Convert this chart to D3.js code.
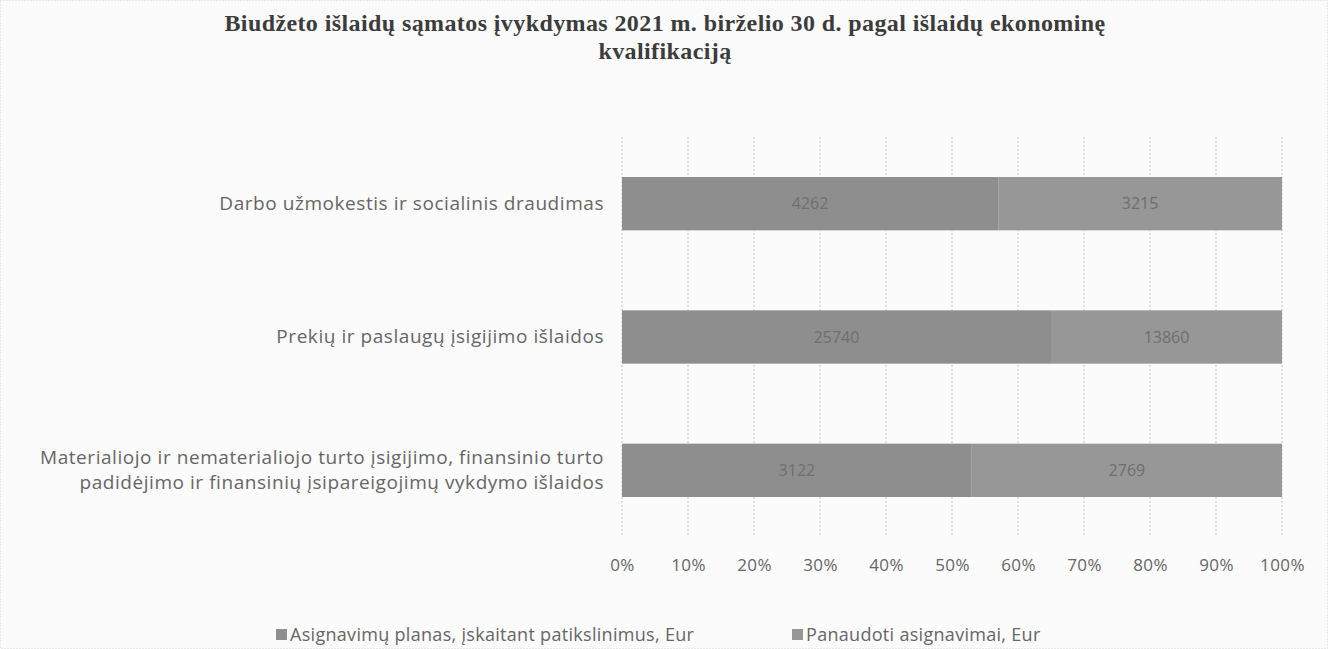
<!DOCTYPE html>
<html>
<head>
<meta charset="utf-8">
<script src="https://cdn.jsdelivr.net/npm/d3@7"></script>
<style>
    body { margin: 0; background: #ffffff; }
    #chart { width: 1328px; height: 649px; }
    .axis path, .axis line { display: none; }
    .axis text { fill: #666666; font-family: "Open Sans", sans-serif; }
</style>
</head>
<body>
<div id="chart"></div>
<script>
// Data (absolute values estimated from the segment shares)
const categories = [
    "Darbo užmokestis ir socialinis draudimas",
    "Prekių ir paslaugų įsigijimo išlaidos",
    "Materialiojo ir nematerialiojo turto įsigijimo, finansinio turto\npadidėjimo ir finansinių įsipareigojimų vykdymo išlaidos"
];
const seriesNames = ["Asignavimų planas, įskaitant patikslinimus, Eur", "Panaudoti asignavimai, Eur"];
const planValues = [4262, 25740, 3122];
const usedValues = [3215, 13860, 2769];
const tickValues = [0, 0.1, 0.2, 0.3, 0.4, 0.5, 0.6, 0.7, 0.8, 0.9, 1];
const titleLines = [
    "Biudžeto išlaidų sąmatos įvykdymas 2021 m. birželio 30 d. pagal išlaidų ekonominę",
    "kvalifikaciją"
];

const margin = { LEFT: 622, RIGHT: 46, TOP: 137, BOTTOM: 112 };
const width = 1328 - margin.LEFT - margin.RIGHT;
const height = 649 - margin.TOP - margin.BOTTOM;
const colors = ["#8e8e8e", "#979797"];

const svg = d3.select("#chart").append("svg")
    .attr("width", 1328)
    .attr("height", 649);

svg.append("rect")
    .attr("x", 0.5).attr("y", 0.5)
    .attr("width", 1327).attr("height", 648)
    .attr("fill", "#fbfbfb")
    .attr("stroke", "#d0d0d0")
    .attr("stroke-dasharray", "1,2");

// Title
svg.append("text")
    .attr("x", 665)
    .attr("y", 31)
    .attr("text-anchor", "middle")
    .attr("font-family", "'Liberation Serif', serif")
    .attr("font-weight", "bold")
    .attr("font-size", "24px")
    .attr("letter-spacing", "0.4px")
    .attr("fill", "#3c3c3c")
    .selectAll("tspan")
    .data(titleLines)
    .enter().append("tspan")
    .attr("x", 665)
    .attr("dy", (d, i) => i === 0 ? 0 : 28)
    .text(d => d);

const g = svg.append("g")
    .attr("transform", `translate(${margin.LEFT}, ${margin.TOP})`);

const data = categories.map((c, i) => {
    const total = planValues[i] + usedValues[i];
    return { category: c, values: [planValues[i], usedValues[i]], total: total };
});

const x = d3.scaleLinear()
    .domain([0, 1])
    .range([0, width]);

const y = d3.scaleBand()
    .domain(categories)
    .range([0, height])
    .paddingInner(0.6)
    .paddingOuter(0.3);

// Gridlines
g.selectAll("line.grid")
    .data(tickValues)
    .enter().append("line")
    .attr("class", "grid")
    .attr("x1", d => x(d))
    .attr("x2", d => x(d))
    .attr("y1", 0)
    .attr("y2", height)
    .attr("stroke", "#c4c4c4")
    .attr("stroke-dasharray", "2,2");

// X Axis
const xAxisCall = d3.axisBottom(x)
    .tickValues(tickValues)
    .tickFormat(d3.format(".0%"))
    .tickSize(0)
    .tickPadding(22);
g.append("g")
    .attr("class", "x axis")
    .attr("transform", `translate(0, ${height})`)
    .call(xAxisCall)
    .selectAll("text")
    .attr("font-size", "17px")
    .attr("letter-spacing", "0.4px");

// Y Axis
const yAxisCall = d3.axisLeft(y)
    .tickSize(0)
    .tickPadding(18)
    .tickFormat("");
const yAxisGroup = g.append("g")
    .attr("class", "y axis")
    .call(yAxisCall);
yAxisGroup.selectAll(".tick text").each(function(d) {
    const lines = d.split("\n");
    const t = d3.select(this)
        .attr("font-size", "19px")
        .attr("letter-spacing", "0.55px")
        .attr("text-anchor", "end");
    lines.forEach((line, i) => {
        t.append("tspan")
            .attr("x", -18)
            .attr("dy", i === 0 ? `${0.32 - (lines.length - 1) * 0.68}em` : "1.36em")
            .text(line);
    });
});

// Stacked 100% bars
const segments = [];
data.forEach(d => {
    let start = 0;
    d.values.forEach((v, k) => {
        const share = v / d.total;
        segments.push({ category: d.category, value: v, x0: start, x1: start + share, series: k });
        start += share;
    });
});

g.selectAll("rect.bar")
    .data(segments)
    .enter().append("rect")
    .attr("class", "bar")
    .attr("x", d => x(d.x0))
    .attr("y", d => y(d.category))
    .attr("width", d => x(d.x1) - x(d.x0))
    .attr("height", y.bandwidth())
    .attr("fill", d => colors[d.series]);

g.selectAll("text.label")
    .data(segments)
    .enter().append("text")
    .attr("class", "label")
    .attr("x", d => x((d.x0 + d.x1) / 2))
    .attr("y", d => y(d.category) + y.bandwidth() / 2)
    .attr("dy", "0.35em")
    .attr("text-anchor", "middle")
    .attr("font-family", "'Open Sans', sans-serif")
    .attr("font-size", "16px")
    .attr("fill", "#6e6e6e")
    .text(d => d.value);

// Legend
const legendX = [276, 792];
const legend = svg.append("g");
seriesNames.forEach((name, i) => {
    legend.append("rect")
        .attr("x", legendX[i])
        .attr("y", 629)
        .attr("width", 11)
        .attr("height", 11)
        .attr("fill", colors[i]);
    legend.append("text")
        .attr("x", legendX[i] + 14)
        .attr("y", 641)
        .attr("font-family", "'Open Sans', sans-serif")
        .attr("font-size", "18px")
        .attr("letter-spacing", "0.3px")
        .attr("fill", "#666666")
        .text(name);
});
</script>
</body>
</html>
